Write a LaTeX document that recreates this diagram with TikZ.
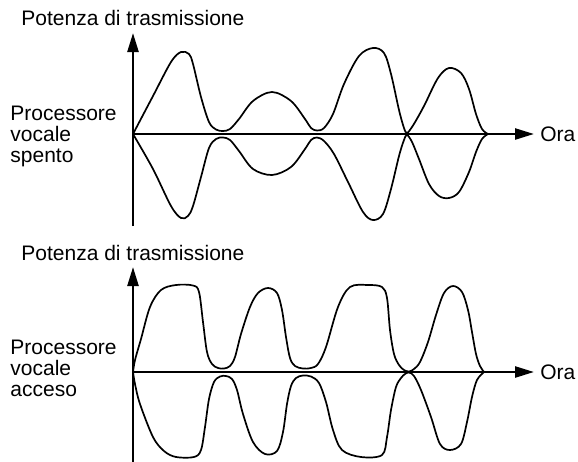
\documentclass[tikz,border=0pt]{standalone}
\usepackage{fontspec}
\setmainfont{Liberation Sans}
\usetikzlibrary{arrows.meta}

\tikzset{
  axisline/.style={line width=1.2pt, ->},
  signal/.style={line width=0.85pt, smooth, tension=0.55},
  lbl/.style={font=\fontsize{10.5}{10.5}\selectfont, inner sep=0pt, anchor=west, align=left}
}

\begin{document}
\begin{tikzpicture}[x=0.5pt, y=0.5pt, >={Triangle[length=9.5pt,width=5.5pt]}]
  \useasboundingbox (0,0) rectangle (578,-461);

  % ---- upper panel: voice processor off ----
  \begin{scope}[shift={(133,-134)}]
    % axes
    \draw[axisline] (0,-92) -- (0,101);
    \draw[axisline] (0,0) -- (401,0);
    \node[lbl] (titleA) at (-112,116) {Potenza di trasmissione};
    \node[lbl] (oraA) at (407,0) {Ora};
    \node[lbl] (labelA) at (-123,-2) {Processore\\vocale\\spento};

    % envelope, upper half
    \draw[signal] plot coordinates {(0,0) (20,38) (38,72) (48,82) (56,80) (60,70)
      (68,37) (76,12) (83,4.5) (90,3) (97,5) (106,15) (120,33) (139,42) (158,33)
      (172,15) (178,6) (184,3.5) (191,6) (200,20) (211,50) (226,78) (240,86)
      (251,81) (258,60) (266,24) (271,6) (274,1) (279,7) (285,17) (292,30)
      (305,56) (316,66) (328,61) (336,45) (343,20) (349,5) (355,0)};
    % envelope, lower half
    \draw[signal] plot coordinates {(0,0) (20,-35) (38,-72) (48,-84) (55,-82) (60,-72)
      (68,-43) (76,-14) (83,-5) (90,-3.5) (97,-6) (106,-17) (120,-35) (139,-41)
      (158,-33) (172,-15) (178,-6) (184,-3.5) (191,-7) (201,-20) (215,-48)
      (230,-78) (240,-86) (250,-80) (258,-55) (266,-22) (271,-6) (274,-1)
      (279,-8) (286,-25) (296,-50) (306,-62) (316,-64) (326,-58) (336,-38)
      (343,-18) (349,-5) (355,0)};
  \end{scope}

  % ---- lower panel: voice processor on ----
  \begin{scope}[shift={(133,-372)}]
    % axes
    \draw[axisline] (0,-92) -- (0,105);
    \draw[axisline] (0,0) -- (401,0);
    \node[lbl] (titleB) at (-112,119) {Potenza di trasmissione};
    \node[lbl] (oraB) at (407,0) {Ora};
    \node[lbl] (labelB) at (-123,4) {Processore\\vocale\\acceso};

    % envelope, upper half
    \draw[signal] plot coordinates {(0,0) (2,12) (8,33) (17,65) (28,82) (43,87)
      (60,86.5) (66,80) (70,50) (74,20) (79,8) (85,4) (91,3.5) (97,6) (102,15)
      (108,38) (117,65) (125,79) (135,84) (144,79) (149,62) (153,35) (157,14)
      (162,6) (170,3.5) (178,4) (185,8) (193,25) (205,65) (217,85) (235,87)
      (249,85) (254,74) (257,42) (261,18) (266,7) (271,2) (276,0.5) (281,3)
      (287,10) (295,30) (303,57) (311,79) (320,86) (329,80) (335,62) (339,40)
      (343,18) (347,6) (351,0)};
    % envelope, lower half
    \draw[signal] plot coordinates {(0,0) (2,-12) (7,-32) (20,-65) (31,-79) (43,-85)
      (61,-85) (68,-78) (72,-55) (76,-27) (81,-10) (87,-4.5) (93,-4) (99,-7)
      (104,-18) (110,-42) (120,-70) (132,-82) (144,-79) (150,-60) (154,-32)
      (158,-14) (163,-6) (170,-3.5) (178,-4.5) (186,-11) (193,-30) (200,-58)
      (209,-78) (228,-85) (249,-83) (254,-65) (258,-38) (263,-15) (268,-6)
      (272,-2) (276,-0.5) (281,-4) (288,-18) (298,-45) (307,-72) (317,-78)
      (328,-72) (334,-50) (339,-25) (344,-8) (351,0)};
  \end{scope}
\end{tikzpicture}
\end{document}
